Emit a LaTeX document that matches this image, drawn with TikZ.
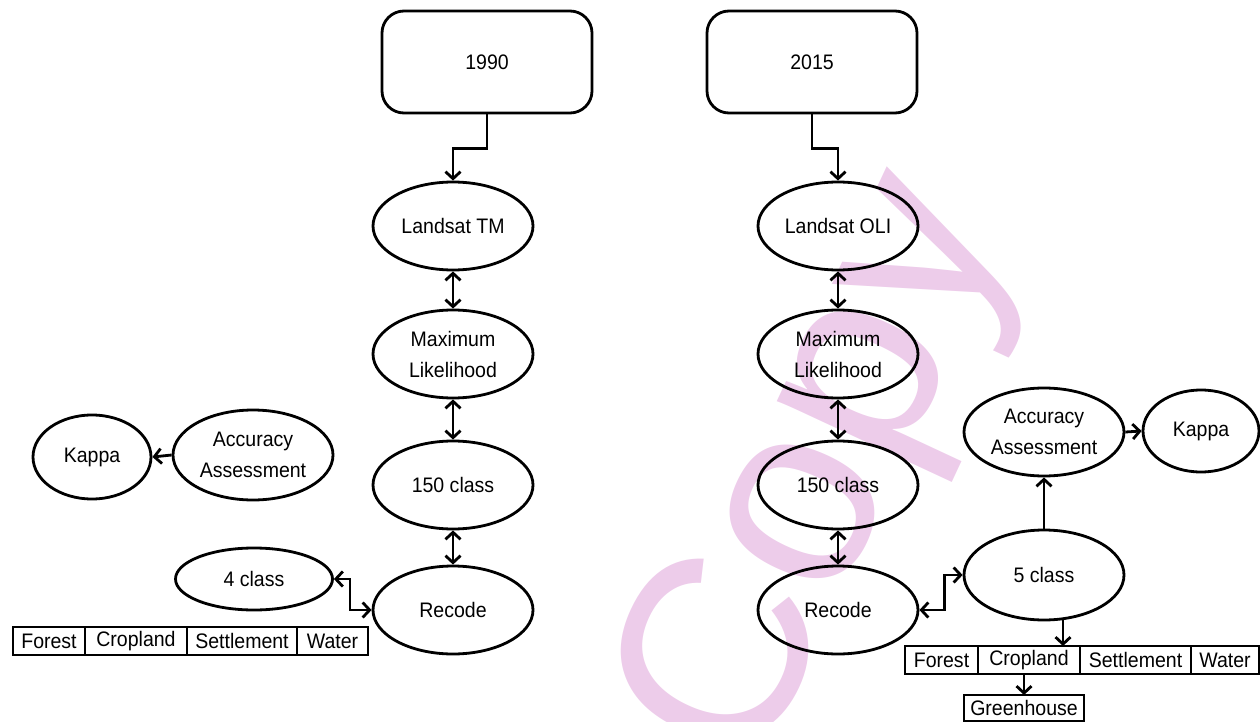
\documentclass[tikz,border=0pt]{standalone}
\usepackage{fontspec}
\setmainfont{Liberation Sans}[FakeStretch=0.93]
\newfontfamily\wmfont{Liberation Sans}
\usetikzlibrary{shapes.geometric,arrows.meta}
\definecolor{wmpink}{RGB}{237,204,234}
\begin{document}
\begin{tikzpicture}[x=1pt,y=-1pt,
  every node/.style={font=\fontsize{21}{31}\selectfont},
  >={Straight Barb[length=7pt,width=15pt]},
  oval/.style={ellipse, draw, line width=2.8pt, inner sep=0pt, minimum width=160pt, minimum height=88pt, align=center},
  yearbox/.style={rectangle, draw, line width=2.8pt, rounded corners=22pt, minimum width=210pt, minimum height=102pt, inner sep=0pt},
  conn/.style={line width=2.8pt},
  cell/.style={rectangle, draw, line width=2.5pt, minimum height=28pt, inner sep=0pt, outer sep=0pt, anchor=west}
]
\useasboundingbox (0,0) rectangle (1260,722);
% watermark
\node[rotate=65, anchor=base west, inner sep=0pt, text=wmpink, font=\wmfont\fontsize{262}{262}\selectfont] (wm) at (754,779) {Copy};

% left column
\node[yearbox] (b1990) at (487,62) {1990};
\node[oval] (ltm) at (453,226) {Landsat TM};
\node[oval] (lml) at (453,354) {Maximum\\Likelihood};
\node[oval] (l150) at (453,485) {150 class};
\node[oval] (rec1) at (453,610) {Recode};
\node[oval, minimum width=157pt, minimum height=62pt] (c4) at (254,579) {4 class};
\node[oval, minimum width=160pt, minimum height=90pt] (aa1) at (253,455) {Accuracy\\Assessment};
\node[oval, minimum width=118pt, minimum height=84pt] (k1) at (92,457) {Kappa};

\node[cell, minimum width=72pt] (fo1) at (13,641) {Forest};
\node[cell, minimum width=102pt] (cr1) at (fo1.east) {Cropland};
\node[cell, minimum width=110pt] (se1) at (cr1.east) {Settlement};
\node[cell, minimum width=71pt] (wa1) at (se1.east) {Water};

\draw[conn,->] (b1990.south) -- ++(0,34) -| (ltm.north);
\draw[conn,<->] (ltm.south) -- (lml.north);
\draw[conn,<->] (lml.south) -- (l150.north);
\draw[conn,<->] (l150.south) -- (rec1.north);
\draw[conn,<->] (c4.east) -- ++(16,0) |- (rec1.west);
\draw[conn,->] (aa1.west) -- (k1.east);

% right column
\node[yearbox] (b2015) at (812,62) {2015};
\node[oval] (loli) at (838,226) {Landsat OLI};
\node[oval] (rml) at (838,354) {Maximum\\Likelihood};
\node[oval] (r150) at (838,485) {150 class};
\node[oval] (rec2) at (838,610) {Recode};
\node[oval, minimum width=160pt, minimum height=90pt] (c5) at (1044,575) {5 class};
\node[oval, minimum width=160pt, minimum height=88pt] (aa2) at (1044,432) {Accuracy\\Assessment};
\node[oval, minimum width=116pt, minimum height=82pt] (k2) at (1201,431) {Kappa};

\node[cell, minimum width=73pt] (fo2) at (905,660) {Forest};
\node[cell, minimum width=102pt] (cr2) at (fo2.east) {Cropland};
\node[cell, minimum width=111pt] (se2) at (cr2.east) {Settlement};
\node[cell, minimum width=68pt] (wa2) at (se2.east) {Water};
\node[cell, anchor=center, minimum width=120pt, minimum height=26pt] (gh) at (1024,708) {Greenhouse};

\draw[conn,->] (b2015.south) -- ++(0,34) -| (loli.north);
\draw[conn,<->] (loli.south) -- (rml.north);
\draw[conn,<->] (rml.south) -- (r150.north);
\draw[conn,<->] (r150.south) -- (rec2.north);
\draw[conn,<->] (rec2.east) -- ++(25,0) |- (c5.west);
\draw[conn,->] (c5.north) -- (aa2.south);
\draw[conn,->] (aa2.east) -- (k2.west);
\coordinate (c5b) at ([xshift=19pt,yshift=1.3pt]c5.south);
\draw[conn,->] (c5b) -- (c5b |- cr2.north);
\draw[conn,->] (gh.north |- cr2.south) -- (gh.north);
\end{tikzpicture}
\end{document}
